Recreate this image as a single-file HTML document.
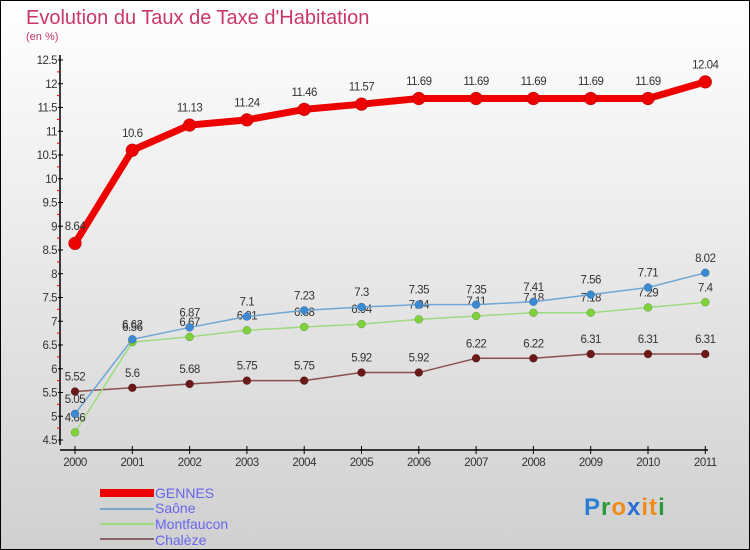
<!DOCTYPE html>
<html><head><meta charset="utf-8"><style>
body{margin:0}
#c{width:750px;height:550px;position:relative;box-sizing:border-box;border:1px solid #000;background:linear-gradient(#fff 0%,#ececec 40%,#d0d0d0 100%);font-family:"Liberation Sans",sans-serif;overflow:hidden}
</style></head><body>
<div id="c">
<svg id="s" width="750" height="550" style="position:absolute;left:-1px;top:-1px">
<text x="26" y="24" font-size="20" fill="#c8366a">Evolution du Taux de Taxe d'Habitation</text>
<text x="26" y="40" font-size="11" fill="#c8366a">(en %)</text>
<g id="ax"></g><g id="pl"></g>
<g>
<rect x="100" y="489" width="54" height="8" fill="#e00"/>
<line x1="100" y1="509" x2="154" y2="509" stroke="#7aa6c8" stroke-width="2"/>
<line x1="100" y1="524" x2="154" y2="524" stroke="#9ddb7e" stroke-width="2"/>
<line x1="100" y1="539" x2="154" y2="539" stroke="#8a6464" stroke-width="2"/>
<g font-size="14" fill="#6666ee">
<text x="155" y="498">GENNES</text>
<text x="155" y="513">Saône</text>
<text x="155" y="529">Montfaucon</text>
<text x="155" y="545">Chalèze</text>
</g></g>
<g font-size="24" font-weight="bold">
<text x="584" y="515" fill="#2a7fd4" letter-spacing="1">P<tspan fill="#2a9a3a">r</tspan><tspan fill="#f08a1a">o</tspan><tspan fill="#2a6fd4">x</tspan><tspan fill="#f08a1a">it</tspan><tspan fill="#2a9a3a">i</tspan></text>
</g>
</svg></div>
<script>
const years=["2000","2001","2002","2003","2004","2005","2006","2007","2008","2009","2010","2011"];
const gennes=[8.64,10.6,11.13,11.24,11.46,11.57,11.69,11.69,11.69,11.69,11.69,12.04];
const saone=[5.05,6.62,6.87,7.1,7.23,7.3,7.35,7.35,7.41,7.56,7.71,8.02];
const montfaucon=[4.66,6.56,6.67,6.81,6.88,6.94,7.04,7.11,7.18,7.18,7.29,7.4];
const chaleze=[5.52,5.6,5.68,5.75,5.75,5.92,5.92,6.22,6.22,6.31,6.31,6.31];
const yTicks=[4.5,5,5.5,6,6.5,7,7.5,8,8.5,9,9.5,10,10.5,11,11.5,12,12.5];
const NS="http://www.w3.org/2000/svg";
const X=i=>75+i*57.3, Y=v=>60+(12.5-v)*47.5;
function mk(p,t,a){const e=document.createElementNS(NS,t);for(const k in a)e.setAttribute(k,a[k]);p.appendChild(e);return e;}
const ax=document.getElementById('ax'),pl=document.getElementById('pl');
let e=mk(ax,'line',{x1:60,y1:55,x2:60,y2:445,stroke:'#000','stroke-width':1.5});


e=mk(ax,'line',{x1:60,y1:450,x2:708,y2:450,stroke:'#000','stroke-width':1.5});


yTicks.forEach((v,i)=>{
 mk(ax,'line',{x1:58,y1:Y(v),x2:63,y2:Y(v),stroke:'#000'});
 if(i<yTicks.length-1)mk(ax,'line',{x1:57,y1:Y(v+0.25),x2:60,y2:Y(v+0.25),stroke:'#e00'});
 const t=mk(ax,'text',{x:57,y:Y(v)+4,'font-size':11.5,fill:'#333','text-anchor':'end','letter-spacing':'-0.5'});
 t.textContent=v;
 
 
});
years.forEach((y,i)=>{
 mk(ax,'line',{x1:X(i),y1:446,x2:X(i),y2:454,stroke:'#000'});
 const t=mk(ax,'text',{x:X(i),y:466,'font-size':11.5,fill:'#333','text-anchor':'middle','letter-spacing':'-0.5'});
 t.textContent=y;
 
 
});
function series(d,col,w,r,name,dot){
 const p=mk(pl,'polyline',{points:d.map((v,i)=>X(i)+','+Y(v)).join(' '),fill:'none',stroke:col,'stroke-width':w,'stroke-linejoin':'round'});
 
 
 d.forEach((v,i)=>{
  const c=mk(pl,'circle',{cx:X(i),cy:Y(v),r:r,fill:dot,stroke:'rgba(0,0,0,0.3)','stroke-width':0.5});
  
  
  const t=mk(pl,'text',{x:X(i),y:Y(v)-(r+7),'font-size':11.5,fill:'#333','text-anchor':'middle','letter-spacing':'-0.5'});
  t.textContent=v;
  
  
 });
}
series(chaleze,'#8a5050',1.5,4,'chaleze','#6a1818');
series(montfaucon,'#9ddb7e',1.5,4,'montfaucon','#7ed33a');
series(saone,'#6ea6d6',1.5,4,'saone','#3a8ad4');
series(gennes,'#ee0000',7,6.5,'gennes','#ee0000');
</script>
</body></html>
